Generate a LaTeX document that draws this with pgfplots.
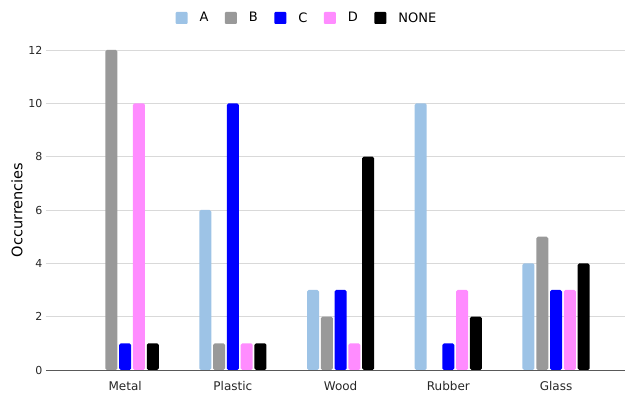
\documentclass[border=0pt]{standalone}
\usepackage{fontspec}
\setmainfont{DejaVu Sans}
\usepackage{pgfplots}
\pgfplotsset{compat=1.18}

\definecolor{cA}{HTML}{9DC3E6}
\definecolor{cB}{HTML}{999999}
\definecolor{cC}{HTML}{0000FF}
\definecolor{cD}{HTML}{FF8CFF}
\definecolor{cN}{HTML}{000000}
\definecolor{gridgray}{HTML}{D9D9D9}

\begin{document}
\begin{tikzpicture}[x=1pt,y=1pt]
\path[use as bounding box] (-53,-26) rectangle (572,370);
\begin{axis}[
  at={(0,0)}, anchor=south west,
  scale only axis,
  width=572pt, height=320pt,
  ybar=1.8pt, bar width=12pt,
  xmin=-0.67, xmax=4.64,
  ymin=0, ymax=12,
  xtick={0,1,2,3,4},
  xticklabels={Metal,Plastic,Wood,Rubber,Glass},
  ytick={2,4,...,12},
  extra y ticks={0},
  extra y tick style={grid=none, major y tick style={draw=black!65, line width=0.8pt}},
  ymajorgrids, grid style={gridgray, line width=0.8pt},
  axis x line*=bottom, axis y line*=left,
  x axis line style={draw=black!65, line width=0.8pt},
  y axis line style={draw=none},
  major x tick style={draw=none},
  major y tick style={draw=gridgray, line width=0.8pt},
  tick align=outside, major tick length=7pt,
  tick label style={font=\fontsize{11}{13}\selectfont, text=black!85},
  x tick label style={font=\fontsize{12}{14}\selectfont, yshift=-1pt},
  /pgf/number format/assume math mode=true,
  ylabel={Occurrencies},
  ylabel style={font=\fontsize{14.5}{16}\selectfont,
    at={(axis description cs:-0.063,0.5)}, anchor=center},
  clip=false,
  legend columns=-1,
  legend style={at={(0.444,1.1)}, anchor=center, draw=none, fill=none,
    font=\fontsize{13}{15}\selectfont,
    /tikz/every odd column/.append style={column sep=10pt},
    /tikz/every even column/.append style={column sep=14.5pt}},
  legend image code/.code={\fill[rounded corners=1pt] (0pt,-6pt) rectangle (12pt,6pt);},
  every axis plot/.append style={draw=none, rounded corners=1.6pt},
]
\addplot[fill=cA] coordinates {(1,6) (2,3) (3,10) (4,4)};
\addplot[fill=cB] coordinates {(0,12) (1,1) (2,2) (4,5)};
\addplot[fill=cC] coordinates {(0,1) (1,10) (2,3) (3,1) (4,3)};
\addplot[fill=cD] coordinates {(0,10) (1,1) (2,1) (3,3) (4,3)};
\addplot[fill=cN] coordinates {(0,1) (1,1) (2,8) (3,2) (4,4)};
\legend{A,B,C,D,NONE}
\end{axis}
\end{tikzpicture}
\end{document}
